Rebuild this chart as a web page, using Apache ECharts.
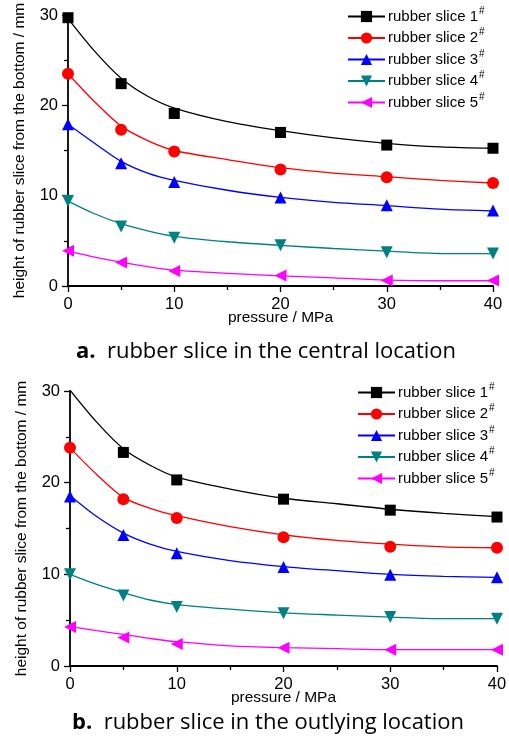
<!DOCTYPE html>
<html>
<head>
<meta charset="utf-8">
<script src="https://cdn.jsdelivr.net/npm/echarts@6/dist/echarts.min.js"></script>
<style>
html,body{margin:0;padding:0;background:#fff;}
#chart{width:509px;height:743px;}
</style>
</head>
<body>
<div id="chart"></div>
<script>
// ---- data ----
const pressure = [0, 5, 10, 20, 30, 40];
const fitPressure = [0, 2.5, 5, 7.5, 10, 15, 20, 25, 30, 35, 40];
const sliceNames = ['rubber slice 1', 'rubber slice 2', 'rubber slice 3', 'rubber slice 4', 'rubber slice 5'];
const xTicks = [0, 10, 20, 30, 40];
const yTicks = [0, 10, 20, 30];

// a. central location - measured points
const centralSlice1 = [29.7, 22.4, 19.1, 17.0, 15.6, 15.25];
const centralSlice2 = [23.5, 17.3, 14.9, 12.9, 12.05, 11.4];
const centralSlice3 = [17.9, 13.6, 11.5, 9.8, 8.95, 8.35];
const centralSlice4 = [9.4, 6.6, 5.35, 4.5, 3.75, 3.6];
const centralSlice5 = [3.9, 2.6, 1.65, 1.15, 0.62, 0.6];
// a. central location - fitted curves (read at fitPressure)
const centralFit1 = [29.6, 26.0, 23.0, 21.0, 19.7, 18.2, 17.2, 16.4, 15.8, 15.4, 15.25];
const centralFit2 = [23.5, 20.4, 17.7, 16.1, 15.0, 14.0, 13.1, 12.5, 12.1, 11.7, 11.4];
const centralFit3 = [17.9, 15.8, 13.8, 12.5, 11.7, 10.6, 9.8, 9.25, 8.9, 8.5, 8.3];
const centralFit4 = [9.4, 8.0, 6.9, 6.1, 5.5, 4.9, 4.5, 4.15, 3.85, 3.6, 3.58];
const centralFit5 = [3.85, 3.2, 2.65, 2.15, 1.75, 1.4, 1.13, 0.9, 0.66, 0.58, 0.58];

// b. outlying location - measured points
const outlyingSlice1 = [30.1, 23.3, 20.3, 18.2, 17.0, 16.25];
const outlyingSlice2 = [23.8, 18.2, 16.15, 14.05, 13.0, 12.9];
const outlyingSlice3 = [18.5, 14.3, 12.3, 10.8, 9.96, 9.67];
const outlyingSlice4 = [10.0, 7.7, 6.45, 5.75, 5.34, 5.16];
const outlyingSlice5 = [4.25, 3.1, 2.4, 2.0, 1.78, 1.78];
// b. outlying location - fitted curves
const outlyingFit1 = [30.1, 26.6, 23.7, 21.9, 20.6, 19.3, 18.3, 17.7, 17.1, 16.65, 16.3];
const outlyingFit2 = [23.8, 20.9, 18.4, 17.2, 16.4, 15.2, 14.3, 13.7, 13.3, 13.0, 12.9];
const outlyingFit3 = [18.6, 16.3, 14.5, 13.3, 12.5, 11.5, 10.85, 10.4, 10.0, 9.78, 9.67];
const outlyingFit4 = [10.0, 8.9, 8.0, 7.2, 6.7, 6.2, 5.8, 5.56, 5.34, 5.16, 5.16];
const outlyingFit5 = [4.3, 3.85, 3.45, 3.0, 2.65, 2.2, 2.0, 1.89, 1.78, 1.78, 1.78];

const captionA = 'rubber slice in the central location';
const captionB = 'rubber slice in the outlying location';

// ---- styles ----
const colors = ['#000000', '#ff0000', '#0000ff', '#008080', '#ff00ff'];
const symbols = ['rect', 'circle', 'triangle', 'triangle', 'triangle'];
const rotations = [0, 0, 0, 180, 90];
const symSizes = [11, 12, 12, 12, 12];
const FONT = '"Liberation Sans", Arial, sans-serif';
const CAPFONT = '"Open Sans", Lato, sans-serif';

const centralPts = [centralSlice1, centralSlice2, centralSlice3, centralSlice4, centralSlice5];
const centralFits = [centralFit1, centralFit2, centralFit3, centralFit4, centralFit5];
const outlyingPts = [outlyingSlice1, outlyingSlice2, outlyingSlice3, outlyingSlice4, outlyingSlice5];
const outlyingFits = [outlyingFit1, outlyingFit2, outlyingFit3, outlyingFit4, outlyingFit5];

function pairs(xs, ys) { return xs.map((x, i) => [x, ys[i]]); }

const series = [];
function addSeries(fits, pts, idx) {
  for (let i = 0; i < 5; i++) {
    series.push({
      name: sliceNames[i], type: 'line', xAxisIndex: idx, yAxisIndex: idx,
      data: pairs(fitPressure, fits[i]), smooth: 0.3,
      showSymbol: false, symbol: symbols[i], symbolRotate: rotations[i],
      lineStyle: { color: colors[i], width: 1.3 }, itemStyle: { color: colors[i] },
      silent: true, z: 2
    });
  }
  for (let i = 0; i < 5; i++) {
    series.push({
      name: sliceNames[i], type: 'scatter', xAxisIndex: idx, yAxisIndex: idx,
      data: pairs(pressure, pts[i]), symbol: symbols[i], symbolRotate: rotations[i],
      symbolSize: symSizes[i], itemStyle: { color: colors[i], opacity: 1 }, z: 3
    });
  }
}
addSeries(centralFits, centralPts, 0);
addSeries(outlyingFits, outlyingPts, 1);

function xAxis(idx) {
  return {
    type: 'value', gridIndex: idx, min: xTicks[0], max: xTicks[xTicks.length - 1], interval: 10,
    name: 'pressure / MPa', nameLocation: 'middle', nameGap: 24, nameMoveOverlap: false,
    nameTextStyle: { fontFamily: FONT, fontSize: 15.5, color: '#000' },
    axisLine: { show: true, lineStyle: { color: '#000', width: 1.8 } },
    axisTick: { show: true, inside: false, length: 6, lineStyle: { color: '#000', width: 1.3 } },
    minorTick: { show: true, splitNumber: 2, length: 4, lineStyle: { color: '#000', width: 1.3 } },
    axisLabel: { fontFamily: FONT, fontSize: 16.5, color: '#000', margin: 10 },
    splitLine: { show: false }, minorSplitLine: { show: false }
  };
}
function yAxis(idx) {
  return {
    type: 'value', gridIndex: idx, min: yTicks[0], max: yTicks[yTicks.length - 1], interval: 10,
    name: 'height of rubber slice from the bottom / mm', nameLocation: 'middle', nameGap: 40, nameMoveOverlap: false,
    nameTextStyle: { fontFamily: FONT, fontSize: 15.5, color: '#000' },
    axisLine: { show: true, lineStyle: { color: '#000', width: 1.8 } },
    axisTick: { show: true, inside: false, length: 6, lineStyle: { color: '#000', width: 1.3 } },
    minorTick: { show: true, splitNumber: 2, length: 4, lineStyle: { color: '#000', width: 1.3 } },
    axisLabel: { fontFamily: FONT, fontSize: 16.5, color: '#000', margin: 10 },
    splitLine: { show: false }, minorSplitLine: { show: false }
  };
}
function legend(left, top) {
  return {
    orient: 'vertical', left: left, top: top, data: sliceNames,
    itemWidth: 37, itemHeight: 14, itemGap: 0.5, padding: 0,
    formatter: n => n + '{s|#}',
    textStyle: {
      fontFamily: FONT, fontSize: 15, color: '#000', lineHeight: 21, padding: [0, 0, 0, -2],
      rich: { s: { fontFamily: FONT, fontSize: 10, verticalAlign: 'top', lineHeight: 16, padding: [0, 0, 0, 1] } }
    },
    selectedMode: false
  };
}

const chart = echarts.init(document.getElementById('chart'), null, { renderer: 'canvas' });
chart.setOption({
  animation: false,
  backgroundColor: '#fff',
  grid: [
    { left: 68, top: 15, width: 425, height: 271, outerBoundsMode: 'none' },
    { left: 70, top: 391, width: 427, height: 275, outerBoundsMode: 'none' }
  ],
  xAxis: [xAxis(0), xAxis(1)],
  yAxis: [yAxis(0), yAxis(1)],
  legend: [legend(347, 6), legend(357, 382)],
  series: series,
  graphic: [
    { type: 'text', x: 266, y: 352, style: { text: '{b|a.}  ' + captionA, textAlign: 'center', textVerticalAlign: 'middle',
      font: '22px ' + CAPFONT, fill: '#000',
      rich: { b: { fontFamily: CAPFONT, fontSize: 22, fontWeight: 'bold', fill: '#000' } } } },
    { type: 'text', x: 268, y: 723, style: { text: '{b|b.}  ' + captionB, textAlign: 'center', textVerticalAlign: 'middle',
      font: '22px ' + CAPFONT, fill: '#000',
      rich: { b: { fontFamily: CAPFONT, fontSize: 22, fontWeight: 'bold', fill: '#000' } } } }
  ]
});
</script>
</body>
</html>
